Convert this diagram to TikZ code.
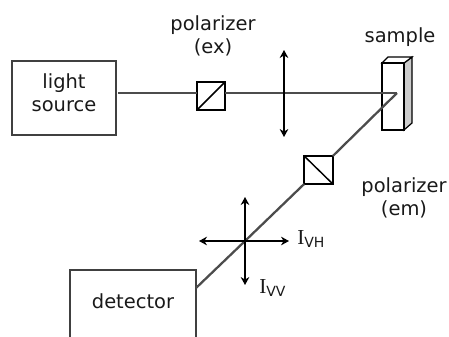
\documentclass[tikz,border=0pt]{standalone}
\usepackage{fontspec}
\usetikzlibrary{arrows.meta}
\setmainfont{DejaVu Sans}
\newfontfamily\serifI{Liberation Serif}
\begin{document}
\begin{tikzpicture}[x=0.75pt,y=-0.75pt,
  box/.style={draw=black!75,line width=1.05pt,inner sep=0pt,outer sep=0pt},
  beam/.style={draw=black!70,line width=1.7pt},
  thickarrow/.style={draw=black,line width=2pt,{Stealth[length=6pt,width=6.5pt]}-{Stealth[length=6pt,width=6.5pt]}},
  lbl/.style={font=\fontsize{14.6pt}{17pt}\selectfont,text=black!90,align=center,inner sep=0pt},
  ilbl/.style={text=black!90,inner sep=0pt,anchor=west}]
\useasboundingbox (0,0) rectangle (449,336);
\clip (0,0) rectangle (449,336);
% sample
\draw[black,line width=0.9pt,fill=black!20] (404,63) -- (412,57) -- (412,123) -- (404,130) -- cycle;
\draw[black,line width=0.9pt,fill=white] (382,63) -- (388,57) -- (412,57) -- (404,63) -- cycle;
\node[draw=black,line width=1pt,minimum width=16.5pt,minimum height=50.25pt,inner sep=0pt,outer sep=0pt] (sample) at (393,96.5) {};
% boxes
\node[box,minimum width=78pt,minimum height=55.5pt] (src) at (64,98) {};
\node[lbl] (srctext) at (64,93) {light\\source};
\node[box,minimum width=94.5pt,minimum height=57pt] (det) at (133,308) {};
\node[lbl] (dettext) at (133,301) {detector};
\coordinate (beamend) at (397,93);
\coordinate (cross) at (245,241);
\coordinate (detport) at (196,288);
\coordinate (lensc) at (284,93);
% polarizers
\node[box,draw=black,minimum width=21pt,minimum height=21pt] (ex) at (211,96) {};
\node[box,draw=black,minimum width=21.5pt,minimum height=21pt] (em) at (318.5,170) {};
% beams
\draw[beam] (118,93) -- (ex.west |- 0,93);
\draw[beam] (ex.east |- 0,93) -- (lensc) -- (beamend);
\draw[beam] (beamend) -- (em.north east);
\draw[beam] (em.south west) -- (cross) -- (detport);
\draw[black,line width=1.1pt] (ex.south west) -- (ex.north east);
\draw[black,line width=1.1pt] (em.north west) -- (em.south east);
% lens and analyser arrows
\coordinate (lenstop) at (284,50);
\coordinate (lensbot) at (284,137);
\coordinate (vtop) at (245,197);
\coordinate (vbot) at (245,285);
\coordinate (hleft) at (199,241);
\coordinate (hright) at (289,241);
\draw[thickarrow] (lenstop) -- (lensbot);
\draw[thickarrow,line width=1.5pt] (vtop) -- (vbot);
\draw[thickarrow] (hleft) -- (hright);
% labels
\node[lbl] (polex) at (213,36) {polarizer\\(ex)};
\node[lbl] (samplet) at (400,37) {sample};
\node[lbl] (polem) at (404,198) {polarizer\\(em)};
\node[ilbl] (ivh) at (297,239) {{\serifI\fontsize{16pt}{16pt}\selectfont I}\raisebox{-2.5pt}{\fontsize{10.5pt}{11pt}\selectfont VH}};
\node[ilbl] (ivv) at (259,288) {{\serifI\fontsize{16pt}{16pt}\selectfont I}\raisebox{-2.5pt}{\fontsize{10.5pt}{11pt}\selectfont VV}};
\end{tikzpicture}
\end{document}
